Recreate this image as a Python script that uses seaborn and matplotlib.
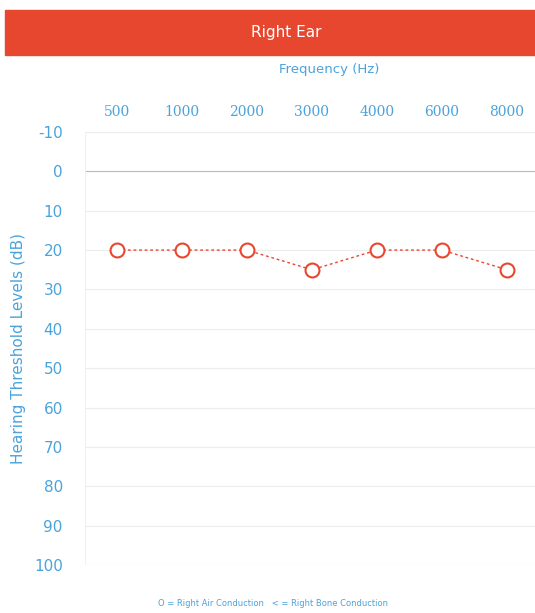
import matplotlib
matplotlib.use("Agg")
import matplotlib.pyplot as plt
import seaborn as sns
import pandas as pd

freqs = ["500", "1000", "2000", "3000", "4000", "6000", "8000"]
right_air = [20, 20, 20, 25, 20, 20, 25]
y_ticks = [-10, 0, 10, 20, 30, 40, 50, 60, 70, 80, 90, 100]

blue = "#4aa3dc"
red = "#e8472f"

sns.set_style("white")
df = pd.DataFrame({"pos": range(len(freqs)), "db": right_air})

fig = plt.figure(figsize=(5.35, 6.13), dpi=100)

# red header bar
fig.patches.append(plt.Rectangle((5/535, 1-55/613), 530/535, 45/613,
                                 transform=fig.transFigure, color=red, zorder=0))
fig.text(0.535, 1-33/613, "Right Ear", color="white", ha="center", va="center", fontsize=11)
fig.text(0.615, 1-70/613, "Frequency (Hz)", color=blue, ha="center", va="center", fontsize=9.5)

ax = fig.add_axes([85/535, 1-565/613, 450/535, 433/613])
sns.lineplot(data=df, x="pos", y="db", ax=ax, color=red, linestyle=(0, (2, 2)),
             linewidth=1, marker="o", markersize=10, markerfacecolor="white",
             markeredgecolor=red, markeredgewidth=1.5)

ax.set_xlim(-0.49, 6.43)
ax.set_ylim(100, -10)
ax.set_yticks(y_ticks)
ax.set_yticklabels([str(v) for v in y_ticks])
ax.set_xticks(range(len(freqs)))
ax.set_xticklabels(freqs)
ax.xaxis.tick_top()
ax.tick_params(axis="x", colors=blue, labelsize=10, length=0, pad=9)
ax.tick_params(axis="y", colors=blue, labelsize=11, length=0, pad=16)
ax.set_xlabel("")
ax.set_ylabel("Hearing Threshold Levels (dB)", color=blue, fontsize=11, labelpad=6)
for t in ax.get_xticklabels():
    t.set_fontfamily("DejaVu Serif")
for s in ax.spines.values():
    s.set_visible(False)
ax.grid(axis="y", color="#ececec", linewidth=0.8)
ax.axhline(0, color="#bbbbbb", linewidth=0.8)
ax.axvline(-0.49, color="#f0f0f0", linewidth=0.8)

fig.text(0.51, 1-603/613, "O = Right Air Conduction   < = Right Bone Conduction",
         color=blue, ha="center", va="center", fontsize=6)

fig.savefig("out.png", dpi=100)
